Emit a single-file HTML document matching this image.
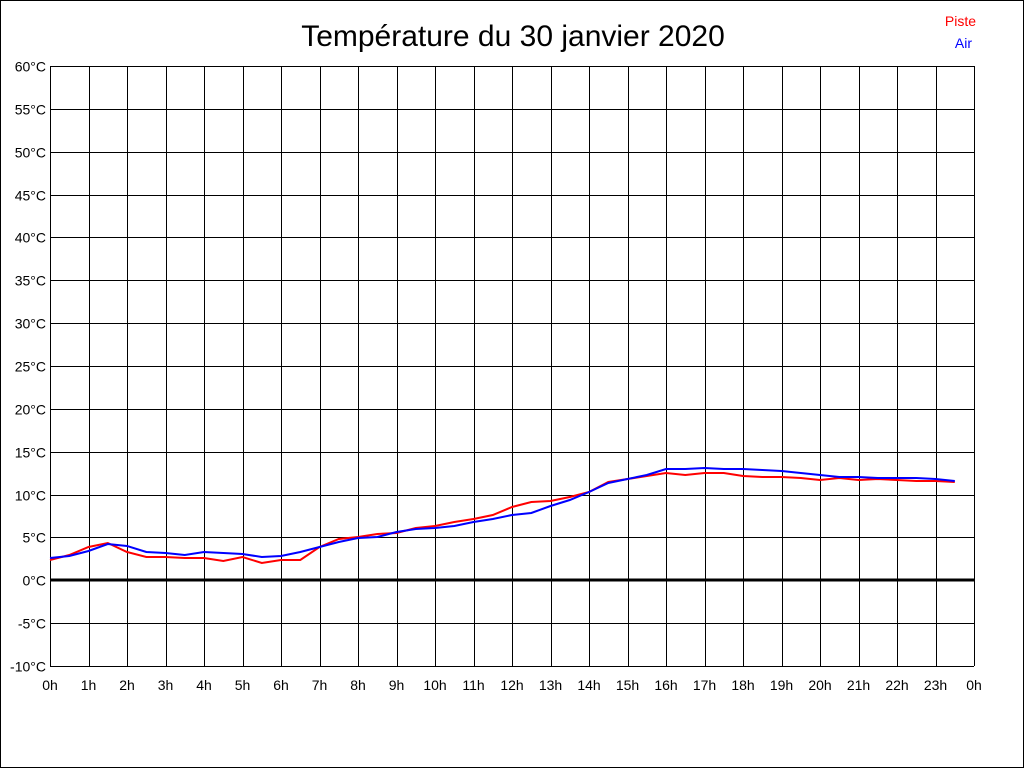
<!DOCTYPE html>
<html><head><meta charset="utf-8"><style>
html,body{margin:0;padding:0;background:#fff}
svg{display:block}
text{font-family:"Liberation Sans",Arial,sans-serif}
</style></head><body>
<svg width="1024" height="768" viewBox="0 0 1024 768" xmlns="http://www.w3.org/2000/svg">
<rect x="0.5" y="0.5" width="1023" height="767" fill="#fff" stroke="#000"/>
<text x="513" y="46" font-size="30" text-anchor="middle">Température du 30 janvier 2020</text>
<text x="976" y="26" font-size="14" fill="#f00" text-anchor="end">Piste</text>
<text x="972" y="48" font-size="14" fill="#00f" text-anchor="end">Air</text>
<g id="grid" stroke="#000" stroke-width="1" shape-rendering="crispEdges"></g>
<g id="labels" font-size="14"></g>
<line x1="50" y1="580" x2="974" y2="580" stroke="#000" stroke-width="3"/>
<polyline id="red" fill="none" stroke="#f00" stroke-width="2"/>
<polyline id="blue" fill="none" stroke="#00f" stroke-width="2"/>
</svg>
<script>
var ns="http://www.w3.org/2000/svg",g=document.getElementById('grid'),L=document.getElementById('labels');
function el(p,t,a,txt){var e=document.createElementNS(ns,t);for(var k in a)e.setAttribute(k,a[k]);if(txt)e.textContent=txt;p.appendChild(e);}
for(var i=0;i<=24;i++){var x=Math.round(50+i*38.5)+0.5;el(g,'line',{x1:x,y1:66,x2:x,y2:666});
el(L,'text',{x:50+i*38.5,y:690,'text-anchor':'middle'},(i%24)+'h');}
for(var j=0;j<=14;j++){var y=Math.round(66+j*600/14)+0.5;el(g,'line',{x1:50,y1:y,x2:974,y2:y});
el(L,'text',{x:46,y:y+5,'text-anchor':'end'},(60-5*j)+'°C');}
var r=[560,555,547,543,552,557,557,558,558,561,557,563,560,560,547,539,537,534,533,528,526,522,519,515,507,502,501,497,492,482,479,476,473,475,473,473,476,477,477,478,480,478,480,479,480,481,481,482];
var b=[558,556,551,544,546,552,553,555,552,553,554,557,556,552,547,542,538,537,532,529,528,526,522,519,515,513,506,500,492,483,479,475,469,469,468,469,469,470,471,473,475,477,477,478,478,478,479,481];
function pts(a){return a.map(function(v,i){return (50+i*19.25).toFixed(1)+','+v}).join(' ');}
document.getElementById('red').setAttribute('points',pts(r));
document.getElementById('blue').setAttribute('points',pts(b));
</script>
</body></html>
